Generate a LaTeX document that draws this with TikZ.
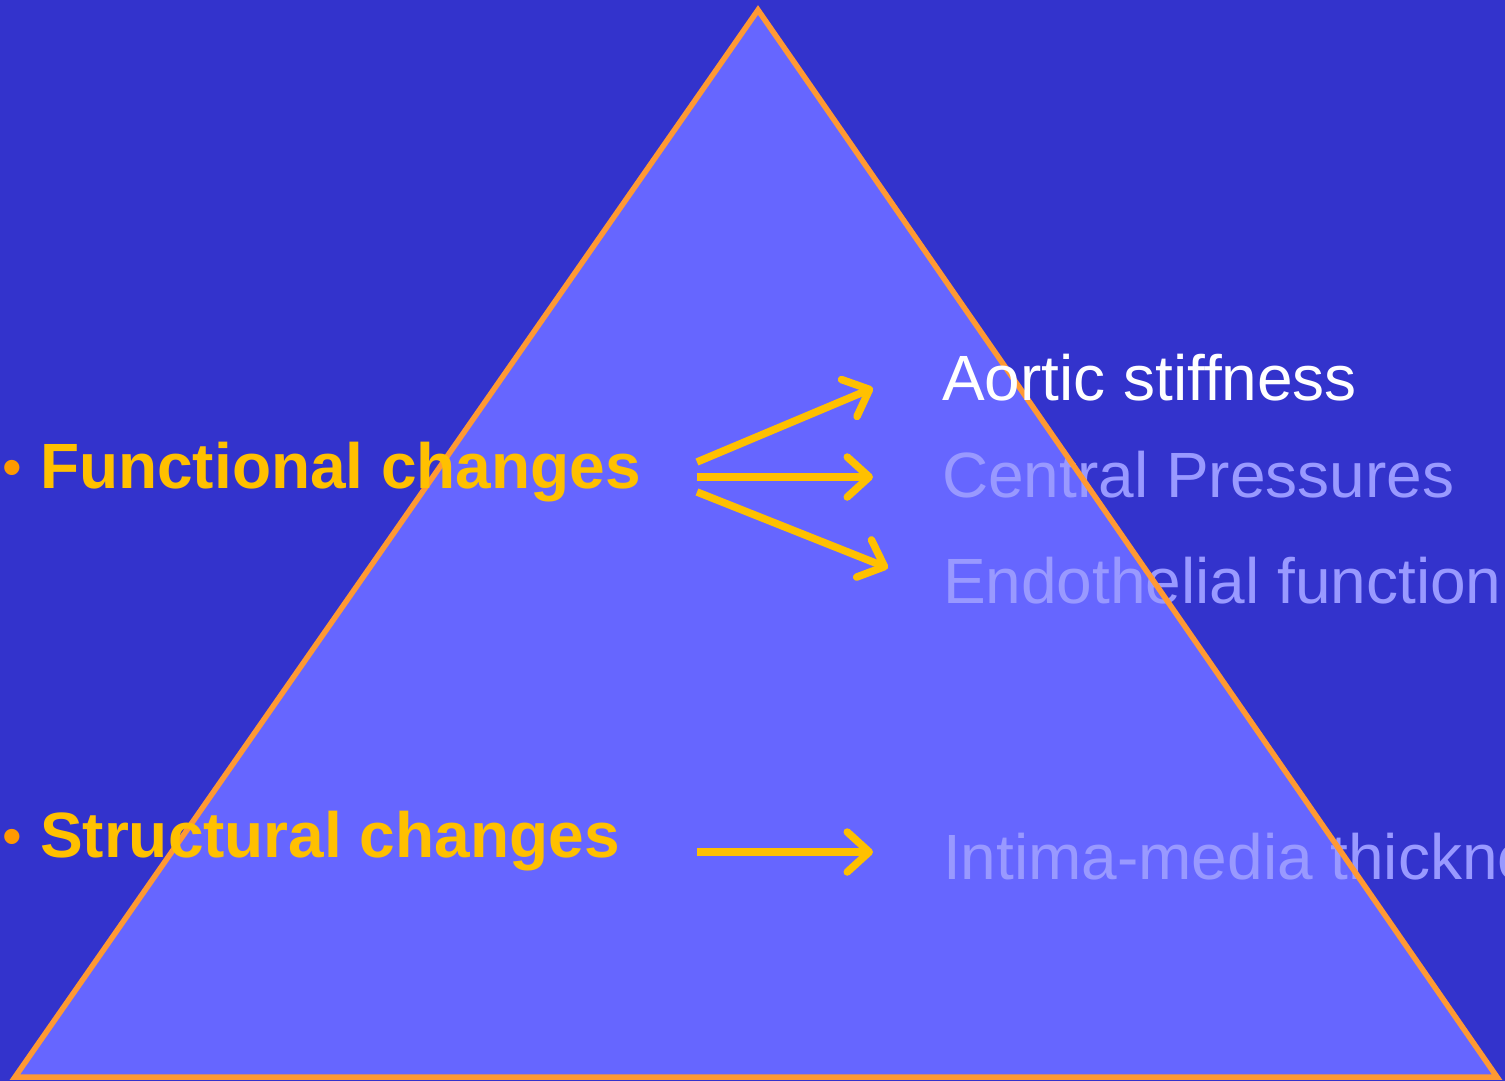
\documentclass[tikz,border=0pt]{standalone}
\usepackage{fontspec}
\setmainfont{Liberation Sans}
\usetikzlibrary{arrows.meta}
\definecolor{bgdark}{HTML}{3333CC}
\definecolor{trifill}{HTML}{6666FF}
\definecolor{triedge}{HTML}{FF9933}
\definecolor{yel}{HTML}{FFC000}
\definecolor{bul}{HTML}{FF9900}
\definecolor{faded}{HTML}{9999FF}
\tikzset{
  x=1pt, y=-1pt,
  bigtxt/.style={anchor=base west, inner sep=0pt, outer sep=0pt, font=\fontsize{64}{77}\selectfont},
  headtxt/.style={bigtxt, text=yel, font=\fontsize{64}{77}\selectfont\bfseries},
  bullettxt/.style={anchor=base west, inner sep=0pt, outer sep=0pt, text=bul, font=\fontsize{56}{66}\selectfont},
  fadedtxt/.style={bigtxt, text=faded},
  arr/.style={draw=yel, line width=7.5pt, -{Straight Barb[length=22pt,width=40pt,round]}}
}
\begin{document}
\begin{tikzpicture}
\useasboundingbox (0,0) rectangle (1505,1081);
\clip (0,0) rectangle (1505,1081);
\fill[bgdark] (0,0) rectangle (1505,1081);
\coordinate (apex) at (758,10);
\coordinate (bl) at (15,1077);
\coordinate (br) at (1497,1077);
\fill[trifill] (apex) -- (bl) -- (br) -- cycle;
% faded texts
\node[fadedtxt] (cp) at (942,497) {Central Pressures};
\node[fadedtxt] (ef) at (943,603) {Endothelial function};
\node[fadedtxt] (imt) at (943,879) {Intima-media thickness};
% triangle edge
\draw[triedge, line width=5.5pt, line join=miter] (apex) -- (bl) -- (br) -- cycle;
% main texts
\node[bigtxt, text=white] (as) at (942,400) {Aortic stiffness};
\node[bullettxt] (b1) at (2,486) {•};
\node[headtxt] (fc) at (40,488) {Functional changes};
\node[bullettxt] (b2) at (2,855) {•};
\node[headtxt] (sc) at (40,857) {Structural changes};
% arrows
\coordinate (f1s) at (697,462);
\coordinate (f1e) at (873,388);
\coordinate (f2s) at (697,477);
\coordinate (f2e) at (873,477);
\coordinate (f3s) at (697,492);
\coordinate (f3e) at (888,568);
\coordinate (s1s) at (697,852);
\coordinate (s1e) at (873,852);
\draw[arr] (f1s) -- (f1e);
\draw[arr] (f2s) -- (f2e);
\draw[arr] (f3s) -- (f3e);
\draw[arr] (s1s) -- (s1e);
\end{tikzpicture}
\end{document}
